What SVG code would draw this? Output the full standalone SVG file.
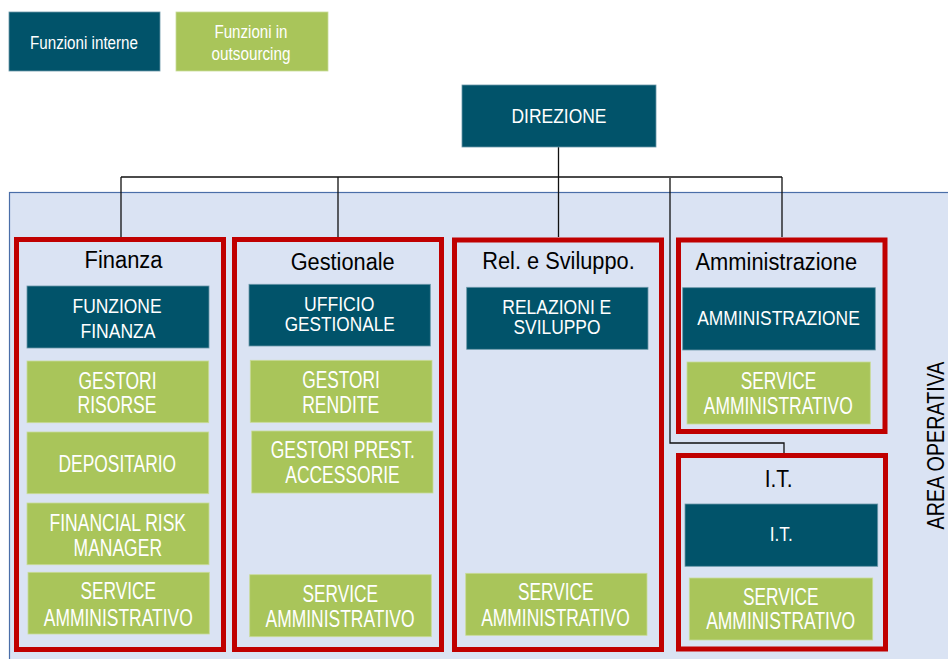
<svg xmlns="http://www.w3.org/2000/svg" width="948" height="659" viewBox="0 0 948 659">
<style>
text{font-family:"Liberation Sans",Arial,sans-serif;text-anchor:middle}
.dk{fill:#01536a;stroke:#6a97a8;stroke-width:0.8}
.gr{fill:#a9c55a;stroke:#c9dc98;stroke-width:0.8}
.wt{fill:#ffffff;font-size:20px}
.gt{fill:#ffffff;font-size:23px}
.ttl{fill:#000000;font-size:23px}
.red{fill:none;stroke:#c00000;stroke-width:5}
.conn{fill:none;stroke:#111111;stroke-width:1.3}
</style>
<rect x="9.5" y="192.5" width="945" height="470" fill="#dae3f3" stroke="#4a6ea8" stroke-width="1.2"/>
<g id="legend-interne">
<rect class="dk" x="9" y="12" width="151" height="59"/>
<text class="wt" x="84" y="49.3" textLength="108" lengthAdjust="spacingAndGlyphs" style="font-size:18px">Funzioni interne</text>
</g>
<g id="legend-outsourcing">
<rect class="gr" x="176" y="12" width="152" height="59"/>
<text class="wt" x="251" y="37.7" textLength="73" lengthAdjust="spacingAndGlyphs" style="font-size:18px">Funzioni in</text>
<text class="wt" x="251" y="60.3" textLength="79" lengthAdjust="spacingAndGlyphs" style="font-size:18px">outsourcing</text>
</g>
<g id="connectors">
<path class="conn" d="M558.5 147V177M121 177H782M121 177V237M338 177V237M558.5 177V237M782 177V237M670 178V443H784V453"/>
</g>
<g id="direzione">
<rect class="dk" x="462" y="85" width="194" height="62"/>
<text class="wt" x="559" y="123.3" textLength="95" lengthAdjust="spacingAndGlyphs">DIREZIONE</text>
</g>
<g id="finanza">
<rect class="red" x="16.5" y="239.5" width="207" height="410"/>
<text class="ttl" x="123.5" y="268" textLength="78" lengthAdjust="spacingAndGlyphs">Finanza</text>
<g id="funzione-finanza">
<rect class="dk" x="27" y="286" width="182" height="62"/>
<text class="wt" x="117" y="312.7" textLength="89" lengthAdjust="spacingAndGlyphs">FUNZIONE</text>
<text class="wt" x="118" y="338.3" textLength="75" lengthAdjust="spacingAndGlyphs">FINANZA</text>
</g>
<g id="gestori-risorse">
<rect class="gr" x="27" y="361" width="181.7" height="61.7"/>
<text class="gt" x="117.5" y="389" textLength="78" lengthAdjust="spacingAndGlyphs">GESTORI</text>
<text class="gt" x="117" y="413.3" textLength="79" lengthAdjust="spacingAndGlyphs">RISORSE</text>
</g>
<g id="depositario">
<rect class="gr" x="27" y="432" width="181.7" height="61.7"/>
<text class="gt" x="117.3" y="471.7" textLength="117.5" lengthAdjust="spacingAndGlyphs">DEPOSITARIO</text>
</g>
<g id="financial-risk-manager">
<rect class="gr" x="27" y="503" width="182" height="61.7"/>
<text class="gt" x="117.8" y="530.7" textLength="136.5" lengthAdjust="spacingAndGlyphs">FINANCIAL RISK</text>
<text class="gt" x="117.8" y="555.7" textLength="88.5" lengthAdjust="spacingAndGlyphs">MANAGER</text>
</g>
<g id="service-finanza">
<rect class="gr" x="28" y="572.3" width="181.3" height="61.7"/>
<text class="gt" x="118.3" y="599.3" textLength="75.5" lengthAdjust="spacingAndGlyphs">SERVICE</text>
<text class="gt" x="118.3" y="625.7" textLength="149" lengthAdjust="spacingAndGlyphs">AMMINISTRATIVO</text>
</g>
</g>
<g id="gestionale">
<rect class="red" x="234.5" y="239.5" width="207" height="410"/>
<text class="ttl" x="342.7" y="270" textLength="104" lengthAdjust="spacingAndGlyphs">Gestionale</text>
<g id="ufficio-gestionale">
<rect class="dk" x="249" y="284.3" width="181.3" height="61.7"/>
<text class="wt" x="339.2" y="311.2" textLength="70.5" lengthAdjust="spacingAndGlyphs">UFFICIO</text>
<text class="wt" x="339.7" y="331" textLength="110" lengthAdjust="spacingAndGlyphs">GESTIONALE</text>
</g>
<g id="gestori-rendite">
<rect class="gr" x="250.3" y="360.3" width="181.7" height="62"/>
<text class="gt" x="341" y="388.3" textLength="77.5" lengthAdjust="spacingAndGlyphs">GESTORI</text>
<text class="gt" x="340.7" y="412.7" textLength="77" lengthAdjust="spacingAndGlyphs">RENDITE</text>
</g>
<g id="gestori-prest-accessorie">
<rect class="gr" x="251.7" y="431" width="181.3" height="62"/>
<text class="gt" x="342.8" y="458.3" textLength="144" lengthAdjust="spacingAndGlyphs">GESTORI PREST.</text>
<text class="gt" x="342.5" y="483.3" textLength="114.5" lengthAdjust="spacingAndGlyphs">ACCESSORIE</text>
</g>
<g id="service-gestionale">
<rect class="gr" x="249.7" y="574.7" width="181.6" height="62"/>
<text class="gt" x="340.2" y="602.3" textLength="75.5" lengthAdjust="spacingAndGlyphs">SERVICE</text>
<text class="gt" x="340" y="627.3" textLength="149" lengthAdjust="spacingAndGlyphs">AMMINISTRATIVO</text>
</g>
</g>
<g id="rel-sviluppo">
<rect class="red" x="454.5" y="240" width="207" height="409.5"/>
<text class="ttl" x="558.5" y="269.3" textLength="152.5" lengthAdjust="spacingAndGlyphs">Rel. e Sviluppo.</text>
<g id="relazioni-sviluppo">
<rect class="dk" x="466.7" y="287.3" width="181.3" height="62"/>
<text class="wt" x="556.8" y="314" textLength="109" lengthAdjust="spacingAndGlyphs">RELAZIONI E</text>
<text class="wt" x="557" y="334" textLength="87" lengthAdjust="spacingAndGlyphs">SVILUPPO</text>
</g>
<g id="service-rel">
<rect class="gr" x="465.7" y="573.3" width="181.3" height="62"/>
<text class="gt" x="555.8" y="600" textLength="75.5" lengthAdjust="spacingAndGlyphs">SERVICE</text>
<text class="gt" x="555.5" y="626" textLength="148.5" lengthAdjust="spacingAndGlyphs">AMMINISTRATIVO</text>
</g>
</g>
<g id="amministrazione">
<rect class="red" x="678.5" y="240" width="206.5" height="191.5"/>
<text class="ttl" x="776.3" y="270" textLength="161.5" lengthAdjust="spacingAndGlyphs">Amministrazione</text>
<g id="amministrazione-box">
<rect class="dk" x="682.7" y="287.7" width="192.6" height="62.3"/>
<text class="wt" x="778.5" y="325" textLength="162.5" lengthAdjust="spacingAndGlyphs">AMMINISTRAZIONE</text>
</g>
<g id="service-amministrazione">
<rect class="gr" x="687" y="362" width="183.3" height="62"/>
<text class="gt" x="778.5" y="389.3" textLength="75.5" lengthAdjust="spacingAndGlyphs">SERVICE</text>
<text class="gt" x="778.3" y="414" textLength="149" lengthAdjust="spacingAndGlyphs">AMMINISTRATIVO</text>
</g>
</g>
<g id="it">
<rect class="red" x="678.5" y="455.5" width="207" height="193.5"/>
<text class="ttl" x="778.7" y="487.3" textLength="28" lengthAdjust="spacingAndGlyphs">I.T.</text>
<g id="it-box">
<rect class="dk" x="685" y="504" width="192.7" height="62.3"/>
<text class="wt" x="781.2" y="540.7" textLength="23" lengthAdjust="spacingAndGlyphs">I.T.</text>
</g>
<g id="service-it">
<rect class="gr" x="689.3" y="578" width="183.4" height="62"/>
<text class="gt" x="780.8" y="605" textLength="75.5" lengthAdjust="spacingAndGlyphs">SERVICE</text>
<text class="gt" x="780.7" y="629.3" textLength="149" lengthAdjust="spacingAndGlyphs">AMMINISTRATIVO</text>
</g>
</g>
<g id="area-operativa">
<text transform="translate(943.5,445.5) rotate(-90)" x="0" y="0" fill="#000000" textLength="168" lengthAdjust="spacingAndGlyphs" style="font-size:23px">AREA OPERATIVA</text>
</g>
</svg>
